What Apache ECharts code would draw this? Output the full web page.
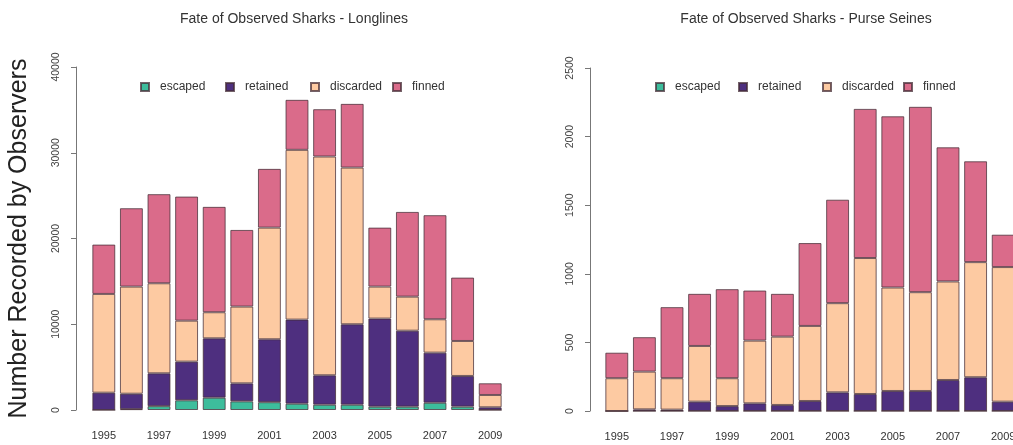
<!DOCTYPE html>
<html>
<head>
<meta charset="utf-8">
<script src="https://cdn.jsdelivr.net/npm/echarts@6/dist/echarts.min.js"></script>
<style>
html,body{margin:0;padding:0;background:#fff;overflow:hidden;width:1013px;height:445px;}
#chart{width:1024px;height:445px;}
</style>
</head>
<body>
<div id="chart"></div>
<script>
const years = ['1995','1996','1997','1998','1999','2000','2001','2002','2003','2004','2005','2006','2007','2008','2009'];
const fates = ['escaped','retained','discarded','finned'];

// Longlines (segment heights)
const llEscaped   = [0, 100, 450, 1130, 1440, 1010, 910, 740, 620, 620, 390, 390, 850, 390, 0];
const llRetained  = [2020, 1800, 3830, 4510, 6920, 2100, 7340, 9800, 3430, 9380, 10270, 8860, 5840, 3580, 315];
const llDiscarded = [11515, 12490, 10500, 4780, 3040, 8950, 13020, 19800, 25510, 18270, 3730, 3970, 3890, 4080, 1435];
const llFinned    = [5755, 9140, 10390, 14470, 12290, 8940, 6850, 5830, 5520, 7430, 6880, 9880, 12140, 7390, 1365];

// Purse seines (segment heights)
const psEscaped   = [0, 0, 0, 0, 0, 0, 0, 0, 0, 0, 0, 0, 0, 0, 0];
const psRetained  = [0, 12, 10, 68, 36, 56, 44, 73, 136, 124, 146, 146, 226, 246, 68];
const psDiscarded = [239, 275, 229, 406, 203, 457, 498, 547, 650, 991, 754, 720, 718, 839, 981];
const psFinned    = [186, 251, 518, 380, 649, 365, 312, 604, 754, 1087, 1248, 1351, 978, 735, 236];

const llTicks = {min: 0, max: 40000, interval: 10000};
const psTicks = {min: 0, max: 2500, interval: 500};

const colors = {escaped:'#3dbd9c', retained:'#4e2f7f', discarded:'#fdcaa2', finned:'#da6b8a'};

const chart = echarts.init(document.getElementById('chart'), null, {renderer:'canvas'});

function xAxisDef(gi){
  return {
    type:'category', gridIndex:gi, data:years,
    axisLine:{show:false}, axisTick:{show:false},
    axisLabel:{interval:1, margin:20, color:'#333', fontSize:11, fontFamily:'Liberation Sans, Arial, sans-serif'}
  };
}
function yAxisDef(gi, t, offset, name){
  return {
    type:'value', gridIndex:gi, min:t.min, max:t.max, interval:t.interval, offset:offset,
    name:name, nameLocation:'middle', nameGap:44,
    nameTextStyle:{fontSize:25, color:'#222', fontFamily:'Liberation Sans, Arial, sans-serif'},
    axisLine:{show:true, lineStyle:{color:'#777', width:1}},
    axisTick:{show:true, length:5, lineStyle:{color:'#777'}},
    splitLine:{show:false},
    axisLabel:{rotate:90, margin:14, color:'#444', fontSize:10.5, fontFamily:'Liberation Sans, Arial, sans-serif',
      formatter: v => String(v)}
  };
}
function seriesDef(name, data, gi){
  return {
    name:name, type:'bar', stack:'s'+gi, xAxisIndex:gi, yAxisIndex:gi, data:data,
    barCategoryGap:'17%',
    itemStyle:{color:colors[name], borderColor:'rgba(70,45,55,0.75)', borderWidth:1},
    emphasis:{disabled:true}
  };
}
function legends(positions){
  return fates.map((f,i)=>({
    data:[f], left:positions[i], top:76, itemWidth:8, itemHeight:8, icon:'rect',
    selectedMode:false,
    textStyle:{fontSize:12, color:'#333', padding:[0,0,0,6], fontFamily:'Liberation Sans, Arial, sans-serif'}
  }));
}

const option = {
  animation:false,
  backgroundColor:'#fff',
  title:[
    {text:'Fate of Observed Sharks - Longlines', left:289, top:7, textAlign:'center',
     textStyle:{fontSize:14, fontWeight:'normal', color:'#333', fontFamily:'Liberation Sans, Arial, sans-serif'}},
    {text:'Fate of Observed Sharks - Purse Seines', left:801, top:7, textAlign:'center',
     textStyle:{fontSize:14, fontWeight:'normal', color:'#333', fontFamily:'Liberation Sans, Arial, sans-serif'}}
  ],
  legend: legends([135,220,305,387]).concat(legends([650,733,817,898])),
  grid:[
    {left:90, width:414, top:67, bottom:35, containLabel:false},
    {left:603, width:414, top:68, bottom:34, containLabel:false}
  ],
  xAxis:[xAxisDef(0), xAxisDef(1)],
  yAxis:[yAxisDef(0, llTicks, 14, 'Number Recorded by Observers'), yAxisDef(1, psTicks, 13, '')],
  series:[
    seriesDef('escaped', llEscaped, 0),
    seriesDef('retained', llRetained, 0),
    seriesDef('discarded', llDiscarded, 0),
    seriesDef('finned', llFinned, 0),
    seriesDef('escaped', psEscaped, 1),
    seriesDef('retained', psRetained, 1),
    seriesDef('discarded', psDiscarded, 1),
    seriesDef('finned', psFinned, 1)
  ]
};
chart.setOption(option);
</script>
</body>
</html>
